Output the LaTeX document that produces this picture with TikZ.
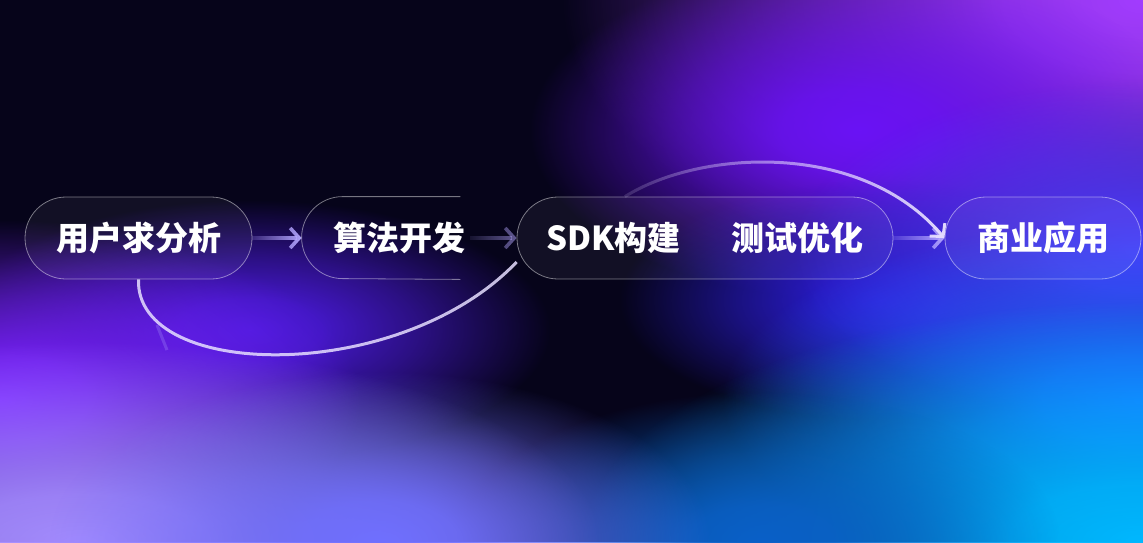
\documentclass[tikz,border=0pt]{standalone}
\usepackage{fontspec}
\setmainfont{Noto Sans CJK SC}
\usetikzlibrary{arrows.meta, fadings}

\definecolor{bgnight}{HTML}{06041A}
\definecolor{topviolet}{HTML}{A23CFF}
\definecolor{deepviolet}{HTML}{6A12F5}
\definecolor{sideviolet}{HTML}{4A3AF8}
\definecolor{rowviolet}{HTML}{2A1CD0}
\definecolor{rightblue}{HTML}{1F62FF}
\definecolor{cornercyan}{HTML}{00B8FF}
\definecolor{lowblue}{HTML}{0A60C8}
\definecolor{leftpurple}{HTML}{7A22FF}
\definecolor{midviolet}{HTML}{4A1AD8}
\definecolor{lavender}{HTML}{A48CFF}
\definecolor{periwinkle}{HTML}{7070FF}
\definecolor{arrowlilac}{HTML}{B4A6FF}
\definecolor{curvelilac}{HTML}{E6DEFF}

\pgfdeclareradialshading{blobshade}{\pgfpointorigin}{color(0bp)=(white);color(6bp)=(white!90!black);color(14bp)=(white!55!black);color(25bp)=(black);color(50bp)=(black)}
\pgfdeclarefading{blob}{\pgfuseshading{blobshade}}
\tikzfading[name = fade right, left color = transparent!85, right color = transparent!0]

\tikzset{
	pill/.style = {draw = white, draw opacity = .45, fill = white, fill opacity = .05, text opacity = 1, line width = .8pt, rounded corners = 41pt, minimum height = 82pt, inner sep = 0pt, text = white, font = \fontsize{33}{40}\selectfont\bfseries},
	flow/.style = {line width = 3.6pt, arrowlilac, -{Straight Barb[length = 9pt, width = 20pt]}, path fading = fade right},
	loop/.style = {line width = 3pt, curvelilac}
}

\begin{document}
\begin{tikzpicture}[x = 1pt, y = -1pt]
	\useasboundingbox (0, 0) rectangle (1143, 542);
	\begin{scope}
		\clip (0, 0) rectangle (1143, 542);
		\fill[bgnight] (0, 0) rectangle (1143, 542);
		\fill[topviolet, path fading = blob] (1143, 0) ellipse [x radius = 580, y radius = 300];
		\fill[deepviolet, path fading = blob] (860, 130) ellipse [x radius = 330, y radius = 170];
		\fill[rowviolet, path fading = blob] (880, 300) ellipse [x radius = 260, y radius = 120];
		\fill[sideviolet, path fading = blob] (1143, 250) ellipse [x radius = 350, y radius = 170];
		\fill[rightblue, path fading = blob] (1143, 400) ellipse [x radius = 420, y radius = 180];
		\fill[cornercyan, path fading = blob] (1143, 542) ellipse [x radius = 560, y radius = 240];
		\fill[lowblue, path fading = blob] (760, 542) ellipse [x radius = 300, y radius = 150];
		\fill[midviolet, path fading = blob] (250, 330) ellipse [x radius = 300, y radius = 130];
		\fill[leftpurple, path fading = blob] (0, 400) ellipse [x radius = 360, y radius = 180];
		\fill[lavender, path fading = blob] (80, 542) ellipse [x radius = 520, y radius = 200];
		\fill[periwinkle, path fading = blob] (380, 542) ellipse [x radius = 330, y radius = 170];
	\end{scope}
	
	\node[pill, minimum width = 227pt] (analyse) at (138.5, 238) {用户求分析};
	\node[pill, draw = none, fill = none, minimum width = 194pt] (algo) at (399, 238) {算法开发};
	\node[pill, minimum width = 376pt] (build) at (705, 238) {SDK构建\hspace{51pt}测试优化};
	\node[pill, minimum width = 196pt] (apply) at (1043, 238) {商业应用};
	
	\draw[white, opacity = .45, line width = .8pt] ([xshift = -36pt]algo.north east) -- ([xshift = 41pt]algo.north west) arc[start angle = 90, end angle = 270, radius = 41pt] -- ([xshift = -36pt]algo.south east);
	
	\draw[flow] ([yshift = 14pt]algo.west) ([yshift = -14pt]algo.west) (analyse.east) -- (algo.west);
	\draw[flow, opacity = .55] ([yshift = 14pt]build.west) ([yshift = -14pt]build.west) ([xshift = -26pt]algo.east) -- (build.west);
	\draw[flow] ([yshift = 14pt]apply.west) ([yshift = -14pt]apply.west) (build.east) -- (apply.west);
	
	\draw[loop, opacity = .85] (analyse.south) .. controls +(-3.5, 101) and +(-117, 123) .. ([yshift = -24pt]build.west);
	\draw[loop, arrowlilac, opacity = .25] (157, 325) -- (167, 350);
	\draw[loop, path fading = fade right, -{Straight Barb[length = 9pt, width = 20pt]}] ([shift = {(10pt, -18pt)}]apply.west) ([xshift = -80pt]build.north) .. controls +(75, -47) and +(-83, -98) .. (apply.west);
\end{tikzpicture}
\end{document}
